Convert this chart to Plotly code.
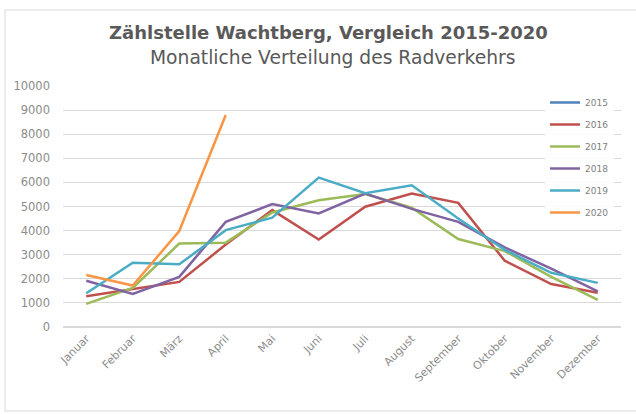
import plotly.graph_objects as go

months = ["Januar", "Februar", "März", "April", "Mai", "Juni", "Juli",
          "August", "September", "Oktober", "November", "Dezember"]

years = ["2015", "2016", "2017", "2018", "2019", "2020"]

v2015 = [None] * 12
v2016 = [1280, 1580, 1870, 3420, 4850, 3630, 4990, 5540, 5150, 2750, 1780, 1420]
v2017 = [960, 1620, 3460, 3500, 4750, 5260, 5520, 4950, 3650, 3150, 2080, 1130]
v2018 = [1920, 1370, 2080, 4360, 5100, 4710, 5540, 4900, 4360, 3300, 2420, 1480]
v2019 = [1400, 2670, 2600, 4020, 4540, 6200, 5550, 5880, 4500, 3200, 2250, 1830]
v2020 = [2160, 1720, 3980, 8800, None, None, None, None, None, None, None, None]

series = [v2015, v2016, v2017, v2018, v2019, v2020]
colors = ["#4F81BD", "#C0504D", "#9BBB59", "#8064A2", "#4BACC6", "#F79646"]

fig = go.Figure()
for name, vals, col in zip(years, series, colors):
    fig.add_trace(go.Scatter(x=months, y=vals, name=name, mode="lines", legendgroup=name,
                             line=dict(color=col, width=2.5)))

W, H = 636, 414
L, R, T, B = 63, 15, 86, 87
pw, ph = W - L - R, H - T - B

def px(x):
    return (x - L) / pw

def py(y):
    return (H - B - y) / ph

fig.update_layout(
    width=W, height=H,
    margin=dict(l=L, r=R, t=T, b=B, autoexpand=False),
    paper_bgcolor="white", plot_bgcolor="white",
    font=dict(family="DejaVu Sans", color="#7f7f7f"),
    showlegend=True,
    legend=dict(x=px(545), y=py(88), xanchor="left", yanchor="top",
                bgcolor="rgba(255,255,255,0.9)", font=dict(size=9, color="#7f7f7f"),
                tracegroupgap=3),
    xaxis=dict(tickangle=-45, tickfont=dict(size=11, color="#8c8c8c"),
               range=[-0.5, 11.5], automargin=False, ticklabelstandoff=2,
               showgrid=False, showline=False, ticks="", fixedrange=True),
    yaxis=dict(range=[0, 10000], dtick=1000, tickformat="d", automargin=False,
               tickfont=dict(size=11.5, color="#8c8c8c"),
               gridcolor="#D9D9D9", gridwidth=1, zeroline=True, zerolinecolor="#D9D9D9",
               showline=False, ticks="", ticklabelstandoff=12, fixedrange=True),
    annotations=[
        dict(text="<b>Zählstelle Wachtberg, Vergleich 2015-2020</b>", x=px(328), y=py(33),
             xref="paper", yref="paper", showarrow=False, xanchor="center", yanchor="middle",
             font=dict(size=18, color="#595959", family="DejaVu Sans")),
        dict(text="Monatliche Verteilung des Radverkehrs", x=px(332), y=py(58),
             xref="paper", yref="paper", showarrow=False, xanchor="center", yanchor="middle",
             font=dict(size=18.7, color="#595959", family="DejaVu Sans")),
    ],
    shapes=[dict(type="rect", xref="paper", yref="paper",
                 x0=px(5), x1=px(640), y0=py(411), y1=py(10),
                 line=dict(color="#D9D9D9", width=1), layer="below")],
)

fig.write_html("out.html", config={"displayModeBar": False},
               post_script="document.body.style.margin='0';")
